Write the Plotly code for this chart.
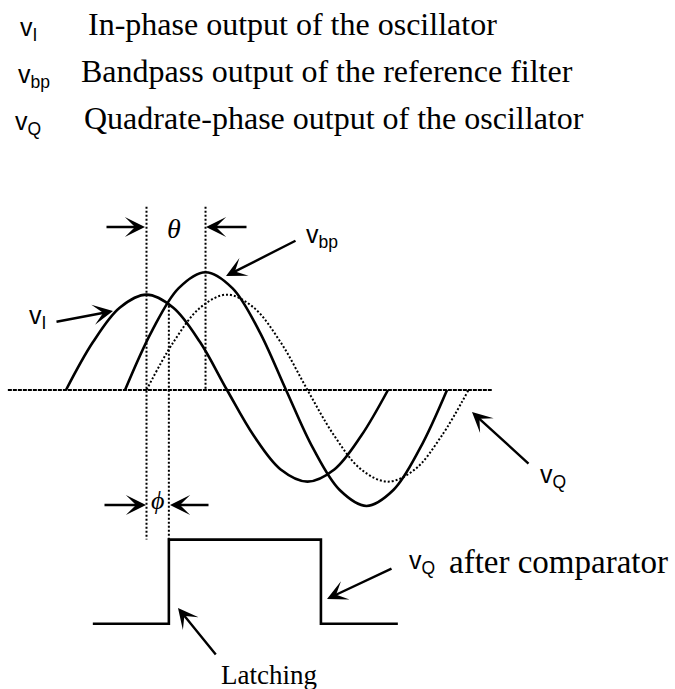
import plotly.graph_objects as go

W, H = 675, 689

# ---------------- data (phase in degrees, amplitude in units of v_I) ----------------
phase_steps = [0, 30, 60, 90, 120, 150, 180, 210, 240, 270, 300, 330, 360]
vI_values = [0, 0.51, 0.88, 1.02, 0.88, 0.51, 0, -0.49, -0.85, -0.98, -0.85, -0.49, 0]
vbp_values = [0, 0.63, 1.09, 1.26, 1.09, 0.63, 0, -0.62, -1.07, -1.24, -1.07, -0.62, 0]
vQ_values = [0, 0.51, 0.88, 1.02, 0.88, 0.51, 0, -0.49, -0.85, -0.98, -0.85, -0.49, 0]
vI_lag = 0
vbp_lag = 66
vQ_lag = 90

axis_span = [-65, 476]
theta_marks = [90, 156]          # peak of v_I, peak of v_bp
theta_marks_top = [1.96, 1.96]
theta_marks_bottom = [-1.6, 0]
phi_mark = 115                   # v_I / v_bp crossing
phi_mark_span = [0.9, -1.6]

comparator_x = [30, 115, 115, 285, 285, 371]
comparator_y = [-2.5, -2.5, -1.6, -1.6, -2.5, -2.5]

legend_symbols = ["v<sub>I</sub>", "v<sub>bp</sub>", "v<sub>Q</sub>"]
legend_texts = ["In-phase output of the oscillator",
                "Bandpass output of the reference filter",
                "Quadrate-phase output of the oscillator"]

# ---------------- pixel mapping helpers (layout only) ----------------
X0, K = 66.0, 161.0 / 180.0      # pixel of 0 deg, px per degree
Y0, U = 390.0, 93.5              # pixel of zero line, px per unit


def dx(px):
    return (px - X0) / K


def dy(py):
    return (Y0 - py) / U


SERIF = "Liberation Serif"
SANS = "Liberation Sans"

fig = go.Figure()

# zero line
fig.add_trace(go.Scatter(x=axis_span, y=[0, 0], mode="lines",
                         line=dict(color="black", width=2, dash="4px,1px"),
                         hoverinfo="skip"))

# marker lines
for xm, yt, yb in zip(theta_marks, theta_marks_top, theta_marks_bottom):
    fig.add_trace(go.Scatter(x=[xm, xm], y=[yt, yb], mode="lines",
                             line=dict(color="black", width=2, dash="2px,2px"),
                             hoverinfo="skip"))
fig.add_trace(go.Scatter(x=[phi_mark, phi_mark], y=phi_mark_span, mode="lines",
                         line=dict(color="black", width=2, dash="2px,2px"),
                         hoverinfo="skip"))

# waveforms
fig.add_trace(go.Scatter(x=[p + vQ_lag for p in phase_steps], y=vQ_values, mode="lines",
                         line=dict(color="black", width=2, dash="2px,2px", shape="spline",
                                   smoothing=1.0), hoverinfo="skip"))
fig.add_trace(go.Scatter(x=[p + vI_lag for p in phase_steps], y=vI_values, mode="lines",
                         line=dict(color="black", width=2.6, shape="spline", smoothing=1.0),
                         hoverinfo="skip"))
fig.add_trace(go.Scatter(x=[p + vbp_lag for p in phase_steps], y=vbp_values, mode="lines",
                         line=dict(color="black", width=2.6, shape="spline", smoothing=1.0),
                         hoverinfo="skip"))

# comparator output
fig.add_trace(go.Scatter(x=comparator_x, y=comparator_y, mode="lines",
                         line=dict(color="black", width=2.6), hoverinfo="skip"))

ann = []


def text(px, py, s, size, family, xanchor="left", yanchor="middle"):
    ann.append(dict(x=dx(px), y=dy(py), xref="x", yref="y", text=s, showarrow=False,
                    xanchor=xanchor, yanchor=yanchor,
                    font=dict(family=family, size=size, color="black")))


def sans_label(left, baseline, s, size=25):
    text(left, baseline - 0.23 * size, s, size, SANS)


def serif_label(x, baseline, s, size, xanchor="left"):
    text(x, baseline - 0.34 * size, s, size, SERIF, xanchor=xanchor)


def arrow(tip, tail):
    ann.append(dict(x=dx(tip[0]), y=dy(tip[1]), xref="x", yref="y", text="",
                    showarrow=True, arrowhead=3, arrowsize=1.4, arrowwidth=2.4,
                    arrowcolor="black", ax=tail[0] - tip[0], ay=tail[1] - tip[1],
                    standoff=0, startstandoff=0))


# legend block
sym_x = [18, 16, 13]
txt_x = [86, 79, 82]
row_base = [35, 82, 129]
for sx, tx, rb, sym, t in zip(sym_x, txt_x, row_base, legend_symbols, legend_texts):
    sans_label(sx, rb, sym)
    serif_label(tx, rb, t, 32)

# theta
text(174, 228, "<i>θ</i>", 28, SERIF, xanchor="center")
arrow((145, 227), (105, 227))
arrow((206, 227), (248, 227))

# v_bp label
sans_label(304, 242, "v<sub>bp</sub>")
arrow((226, 276), (297, 240))

# v_I label
sans_label(27, 323, "v<sub>I</sub>")
arrow((113, 311), (55, 322))

# v_Q label
sans_label(538, 482, "v<sub>Q</sub>")
arrow((472, 412), (530, 465))

# phi
text(157, 500, "<i>ϕ</i>", 26, SERIF, xanchor="center")
arrow((146, 505), (103, 505))
arrow((170, 505), (210, 505))

# comparator label
sans_label(407, 568, "v<sub>Q</sub>")
serif_label(447, 573, "after comparator", 33)
arrow((327, 599), (393, 568))

# latching
serif_label(269, 684, "Latching", 27, xanchor="center")
arrow((178, 608), (217, 656))

fig.update_layout(
    width=W, height=H,
    margin=dict(l=0, r=0, t=0, b=0),
    paper_bgcolor="white", plot_bgcolor="white",
    showlegend=False,
    annotations=ann,
    xaxis=dict(range=[dx(0), dx(W)], visible=False, fixedrange=True),
    yaxis=dict(range=[dy(H), dy(0)], visible=False, fixedrange=True),
)

fig.write_html("out.html",
               config={"displayModeBar": False, "staticPlot": True},
               post_script="document.body.style.margin='0px';"
                           "document.body.style.overflow='hidden';")
